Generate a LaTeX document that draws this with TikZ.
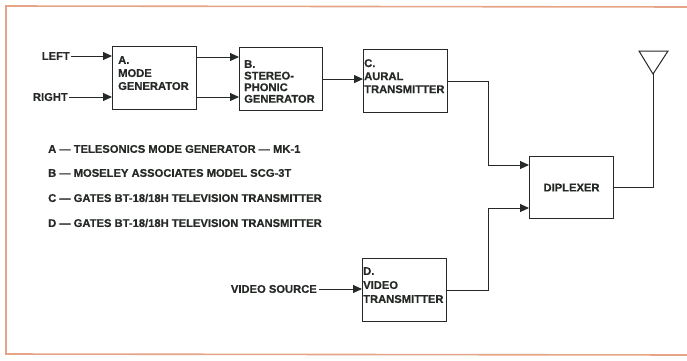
\documentclass[tikz,border=0pt]{standalone}
\usepackage{fontspec}
\setmainfont{Liberation Sans}[FakeBold=0.6]
\usetikzlibrary{arrows.meta,calc}
\definecolor{ink}{HTML}{262A26}
\definecolor{frame}{HTML}{E6A487}
\tikzset{
  blk/.style={draw=ink, line width=1.1pt, minimum width=84pt, minimum height=63pt, anchor=north west, inner sep=0pt},
  txt/.style={inner sep=0pt, text=ink, font=\bfseries\fontsize{11.2}{13}\selectfont, align=left},
  wire/.style={draw=ink, line width=1pt},
  arr/.style={wire, -{Triangle[length=9pt,width=8pt]}},
}
\begin{document}
\begin{tikzpicture}[x=1pt,y=-1pt]
\useasboundingbox (0,0) rectangle (687,360);
% frame
\draw[frame, line width=1.6pt] (692,7) -- (6,6) -- (6,354) -- (692,355);
% blocks
\node[blk] (A) at (112,46) {};
\node[blk, minimum width=83pt] (B) at (239,47) {};
\node[blk] (C) at (363,49) {};
\node[blk] (D) at (362,258) {};
\node[blk, minimum height=62pt] (Dip) at (529,156) {};
% block texts
\node[txt, anchor=north west] (Atx) at (118,56) {A.\\MODE\\GENERATOR};
\node[txt, anchor=north west, font=\bfseries\fontsize{11.2}{11.6}\selectfont] (Btx) at (244,60) {B.\\STEREO-\\PHONIC\\GENERATOR};
\node[txt, anchor=north west] (Ctx) at (364,59) {C.\\AURAL\\TRANSMITTER};
\node[txt, anchor=north west, font=\bfseries\fontsize{11.2}{14}\selectfont] (Dtx) at (363,267) {D.\\VIDEO\\TRANSMITTER};
\node[txt] (Diptx) at (Dip.center) {DIPLEXER};
% inputs
\node[txt, anchor=east] (L) at (70,56) {LEFT};
\node[txt, anchor=east] (R) at (68,97) {RIGHT};
\node[txt, anchor=east] (V) at (317,289) {VIDEO SOURCE};
% antenna
\coordinate (apex) at (653,74);
\coordinate (tl) at (639,51);
\coordinate (tr) at (668,51);
\draw[wire, line join=miter] (tl) -- (tr) -- (apex) -- cycle;
% connectors
\draw[arr] (L.east) ++(1,0) -- (L.east -| A.west);
\draw[arr] (R.east) ++(1,0) -- (R.east -| A.west);
\draw[arr] ($(A.east |- L.east)+(0,1)$) -- ($(B.west |- L.east)+(0,1)$);
\draw[arr] (A.east |- R.east) -- (B.west |- R.east);
\draw[arr] (B.east) -- (B.east -| C.west);
\coordinate (cx) at (488,0);
\coordinate (dinA) at (529,165);
\coordinate (dinB) at (529,208);
\draw[arr] (C.east) -| (cx |- dinA) -- (dinA);
\draw[arr] (D.east) -| (cx |- dinB) -- (dinB);
\draw[arr] (V.east) ++(2,0) -- (V.east -| D.west);
\draw[wire] (Dip.east) -| (apex);
% legend
\node[txt, anchor=west] (la) at (48,149) {A — TELESONICS MODE GENERATOR — MK-1};
\node[txt, anchor=west] (lb) at (48,173) {B — MOSELEY ASSOCIATES MODEL SCG-3T};
\node[txt, anchor=west] (lc) at (48,198) {C — GATES BT-18/18H TELEVISION TRANSMITTER};
\node[txt, anchor=west] (ld) at (48,223) {D — GATES BT-18/18H TELEVISION TRANSMITTER};
\end{tikzpicture}
\end{document}
